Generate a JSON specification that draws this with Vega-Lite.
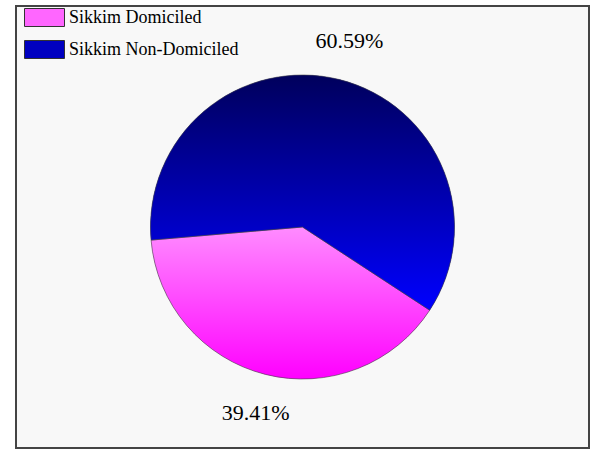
{
  "$schema": "https://vega.github.io/schema/vega-lite/v6.json",
  "width": 573,
  "height": 442,
  "autosize": {"type": "none"},
  "padding": {"left": 16, "top": 6, "right": 1, "bottom": 2},
  "background": "#ffffff",
  "view": {"fill": "#f8f8f8", "stroke": "#444444", "strokeWidth": 2},
  "config": {
    "font": "Liberation Serif"
  },
  "data": {
    "values": [
      {"category": "Sikkim Domiciled", "share": 39.41, "label": "39.41%"},
      {"category": "Sikkim Non-Domiciled", "share": 60.59, "label": "60.59%"}
    ]
  },
  "layer": [
    {
      "mark": {"type": "arc", "outerRadius": 152, "strokeWidth": 0},
      "encoding": {
        "theta": {"field": "share", "type": "quantitative", "stack": true, "scale": {"range": [2.150, 8.433]}},
        "fill": {
          "field": "category",
          "type": "nominal",
          "scale": {
            "domain": ["Sikkim Domiciled", "Sikkim Non-Domiciled"],
            "range": ["#ff66ff", "#0000c0"]
          },
          "legend": {
            "title": null,
            "orient": "none",
            "legendX": 8,
            "legendY": -9,
            "labelFont": "Liberation Serif",
            "labelFontSize": 18,
            "labelColor": "#000000",
            "labelOffset": 4,
            "labelLimit": 400,
            "symbolType": "M-1,-0.45H1V0.45H-1Z",
            "symbolSize": 1600,
            "symbolStrokeColor": "#333333",
            "symbolStrokeWidth": 1,
            "symbolOpacity": 1,
            "rowPadding": -14,
            "encode": {
              "symbols": {
                "update": {
                  "stroke": {"value": "#333333"},
                  "strokeWidth": {"value": 1},
                  "fill": [
                    {"test": "datum.value === 'Sikkim Domiciled'", "value": {"gradient": "linear", "x1": 0, "y1": 0, "x2": 0, "y2": 1, "stops": [{"offset": 0, "color": "#ff8cff"}, {"offset": 1, "color": "#ff00ff"}]}},
                    {"value": {"gradient": "linear", "x1": 0, "y1": 0, "x2": 0, "y2": 1, "stops": [{"offset": 0, "color": "#00005c"}, {"offset": 1, "color": "#0000ff"}]}}
                  ]
                }
              }
            }
          }
        }
      }
    },
    {
      "mark": {"type": "arc", "outerRadius": 152, "stroke": "#444444", "strokeWidth": 0.6},
      "encoding": {
        "theta": {"field": "share", "type": "quantitative", "stack": true},
        "detail": {"field": "category", "type": "nominal"},
        "fill": {
          "condition": {"test": "datum.category === 'Sikkim Domiciled'", "value": {"gradient": "linear", "x1": 0, "y1": 0, "x2": 0, "y2": 1, "stops": [{"offset": 0, "color": "#ff8cff"}, {"offset": 1, "color": "#ff00ff"}]}},
          "value": {"gradient": "linear", "x1": 0, "y1": 0, "x2": 0, "y2": 1, "stops": [{"offset": 0, "color": "#00005c"}, {"offset": 1, "color": "#0000ff"}]}
        }
      }
    },
    {
      "mark": {"type": "text", "radius": 192, "font": "Liberation Serif", "fontSize": 22, "color": "#000000"},
      "encoding": {
        "theta": {"field": "share", "type": "quantitative", "stack": true},
        "detail": {"field": "category", "type": "nominal"},
        "text": {"field": "label", "type": "nominal"}
      }
    }
  ]
}
